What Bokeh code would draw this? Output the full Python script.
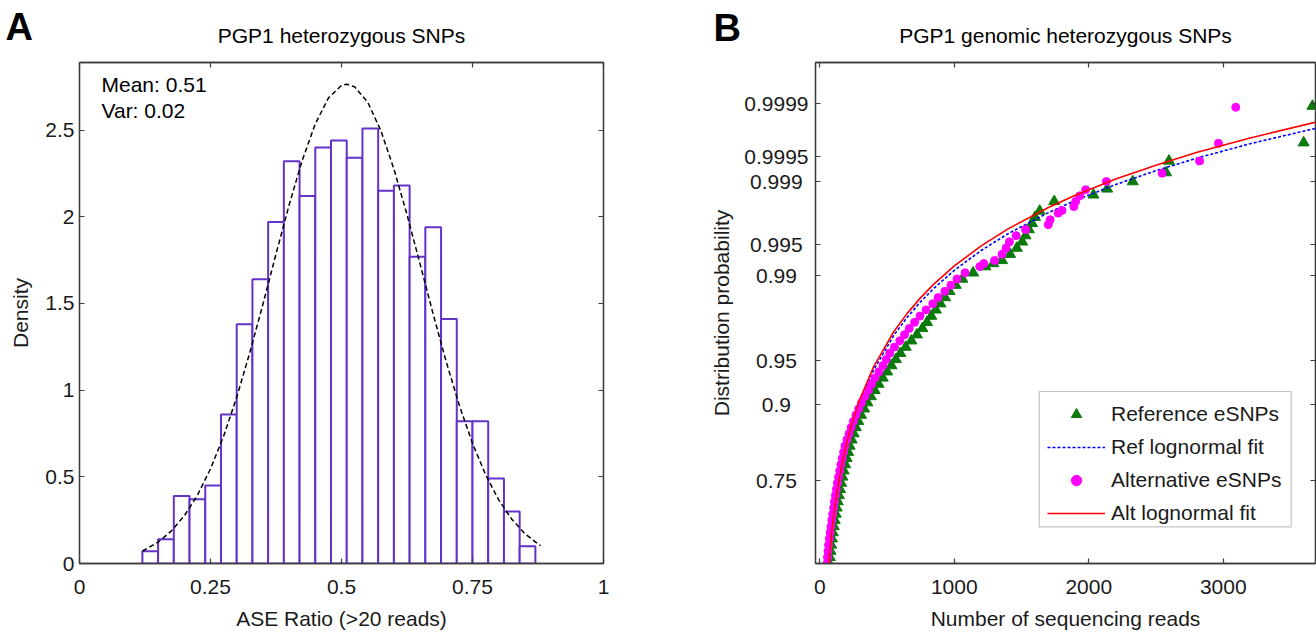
import math
from statistics import NormalDist
from bokeh.plotting import figure
from bokeh.layouts import row, column
from bokeh.models import (Range1d, LinearAxis, FixedTicker, CustomJSTickFormatter,
                          Label, Legend, LegendItem, BoxAnnotation)
from bokeh.embed import file_html
from bokeh.resources import INLINE

# ---------------- Panel A data ----------------
bin_edges = [0.12, 0.15, 0.18, 0.21, 0.24, 0.27, 0.30, 0.33, 0.36, 0.39, 0.42, 0.45, 0.48,
             0.51, 0.54, 0.57, 0.60, 0.63, 0.66, 0.69, 0.72, 0.75, 0.78, 0.81, 0.84, 0.87]
density = [0.07, 0.14, 0.39, 0.37, 0.45, 0.86, 1.38, 1.64, 1.97, 2.32, 2.12, 2.40, 2.44,
           2.34, 2.51, 2.15, 2.18, 1.77, 1.94, 1.41, 0.82, 0.82, 0.49, 0.30, 0.10]
normal_fit_x = [0.12, 0.15, 0.175, 0.2, 0.225, 0.25, 0.275, 0.3, 0.325, 0.35, 0.375, 0.4, 0.425,
                0.45, 0.475, 0.5, 0.51, 0.525, 0.55, 0.575, 0.6, 0.625, 0.65, 0.675, 0.7, 0.725,
                0.75, 0.775, 0.8, 0.825, 0.85, 0.875, 0.88]
normal_fit_y = [0.072, 0.123, 0.187, 0.275, 0.393, 0.546, 0.734, 0.959, 1.216, 1.495, 1.785, 2.068,
                2.325, 2.536, 2.685, 2.758, 2.765, 2.750, 2.661, 2.498, 2.276, 2.013, 1.727, 1.438,
                1.162, 0.911, 0.693, 0.512, 0.367, 0.255, 0.172, 0.113, 0.103]
a_xticks = [0, 0.25, 0.5, 0.75, 1]
a_yticks = [0, 0.5, 1, 1.5, 2, 2.5]

# ---------------- Panel B data ----------------
ref_reads = [70, 75, 80, 85, 91, 97, 104, 111, 119, 126, 134, 142, 150, 159, 168, 178, 189, 200,
             211, 222, 237, 252, 268, 286, 307, 330, 354, 380, 408, 437, 468, 501, 533, 566, 599,
             639, 681, 722, 763, 797, 829, 863, 897, 932, 965, 1011, 1060, 1140, 1232, 1290, 1355,
             1415, 1465, 1505, 1530, 1555, 1578, 1600, 1635,
             1743, 2035, 2137, 2327, 2575, 2596, 3598, 3663]
ref_prob = [0.5000, 0.5199, 0.5398, 0.5596, 0.5793, 0.5987, 0.6179, 0.6368, 0.6554, 0.6736,
            0.6915, 0.7088, 0.7257, 0.7422, 0.7580, 0.7734, 0.7881, 0.8023, 0.8159, 0.8289,
            0.8413, 0.8531, 0.8643, 0.8749, 0.8849, 0.8944, 0.9032, 0.9115, 0.9192, 0.9265,
            0.9332, 0.9394, 0.9452, 0.9505, 0.9554, 0.9599, 0.9641, 0.9678, 0.9713, 0.9744,
            0.97725, 0.97982, 0.98214, 0.98422, 0.98610, 0.98778, 0.98928, 0.99061, 0.99180,
            0.99235, 0.99286, 0.99379, 0.99461, 0.99534, 0.99598, 0.99653, 0.99702, 0.99744,
            0.99781,
            0.99829, 0.99856, 0.99877, 0.99899, 0.999211, 0.999431, 0.999665, 0.999891]
alt_reads = [53, 57, 61, 65, 71, 77, 83, 89, 96, 103, 109, 116, 123, 131, 139, 148, 157, 167,
             177, 187, 202, 217, 233, 250, 269, 289, 310, 336, 362, 385, 410, 440, 470, 495, 520,
             555, 595, 630, 665, 705, 745, 790, 840, 880, 930, 975, 1020, 1080, 1190, 1220, 1300,
             1355, 1385, 1410, 1460, 1530,
             1699, 1713, 1772, 1801, 1889, 1903, 1933, 1977, 2131, 2546, 2824, 2964, 3093]
alt_prob = [0.5000, 0.5199, 0.5398, 0.5596, 0.5793, 0.5987, 0.6179, 0.6368, 0.6554, 0.6736,
            0.6915, 0.7088, 0.7257, 0.7422, 0.7580, 0.7734, 0.7881, 0.8023, 0.8159, 0.8289,
            0.8413, 0.8531, 0.8643, 0.8749, 0.8849, 0.8944, 0.9032, 0.9115, 0.9192, 0.9265,
            0.9332, 0.9394, 0.9452, 0.9505, 0.9554, 0.9599, 0.9641, 0.9678, 0.9713, 0.9744,
            0.97725, 0.97982, 0.98214, 0.98422, 0.98610, 0.98778, 0.98928, 0.99061, 0.99180,
            0.99235, 0.99286, 0.99379, 0.99461, 0.99534, 0.99598, 0.99653,
            0.99692, 0.99727, 0.99769, 0.99784, 0.99805, 0.99829, 0.99852, 0.99874, 0.99899,
            0.999197, 0.999431, 0.999659, 0.999887]
ref_fit_reads = [60, 68, 80, 90, 100, 115, 130, 150, 170, 190, 220, 260, 300, 400, 550, 650, 750,
                 850, 1000, 1200, 1400, 1700, 1900, 2200, 2500, 2800, 3200, 3700]
ref_fit_prob = [0.4576, 0.5000, 0.5584, 0.6007, 0.6343, 0.6811, 0.7171, 0.7597, 0.7911, 0.8195,
                0.8502, 0.8829, 0.9049, 0.9410, 0.9674, 0.97674, 0.98285, 0.98701, 0.99110,
                0.99430, 0.99616, 0.99772, 0.99833, 0.998906, 0.999253, 0.999473, 0.999655,
                0.999785]
alt_fit_reads = [60, 67, 80, 90, 100, 115, 130, 150, 170, 190, 220, 260, 300, 400, 550, 650, 750,
                 850, 1000, 1200, 1400, 1700, 1900, 2200, 2500, 2800, 3200, 3700]
alt_fit_prob = [0.4607, 0.5000, 0.5626, 0.6035, 0.6391, 0.6846, 0.7224, 0.7633, 0.7963, 0.8231,
                0.8549, 0.8862, 0.9089, 0.9441, 0.9695, 0.97841, 0.9842, 0.98811, 0.99193,
                0.99488, 0.996584, 0.997997, 0.998543, 0.999056, 0.999359, 0.999553, 0.999709,
                0.999822]
b_xticks = [0, 1000, 2000, 3000]
b_ytick_prob = [0.75, 0.9, 0.95, 0.99, 0.995, 0.999, 0.9995, 0.9999]
b_ytick_labels = ["0.75", "0.9", "0.95", "0.99", "0.995", "0.999", "0.9995", "0.9999"]

# ---------------- styling ----------------
FONT = "Liberation Sans"
FS = "21px"
TXT = "#1a1a1a"
AX = "#3c3c3c"
PURPLE = "#6432C8"
GREEN = "#0A7A0A"
MAGENTA = "#FF00FF"
NBSP = "\u00a0"

ND = NormalDist()


def probit(ps):
    return [ND.inv_cdf(v) for v in ps]


num_fmt = CustomJSTickFormatter(code="return String(tick)")
blank_fmt = CustomJSTickFormatter(code="return ''")


def style_axis(ax, ticks, labels=True):
    ax.ticker = FixedTicker(ticks=ticks)
    ax.major_tick_in = 5
    ax.major_tick_out = 0
    ax.minor_tick_in = 0
    ax.minor_tick_out = 0
    ax.major_tick_line_color = AX
    ax.major_tick_line_width = 1.2
    ax.axis_line_color = AX
    ax.axis_line_width = 1.3
    ax.major_label_text_font = FONT
    ax.major_label_text_color = TXT
    ax.axis_label_text_font = FONT
    ax.axis_label_text_font_size = FS
    ax.axis_label_text_font_style = "normal"
    ax.axis_label_text_color = TXT
    if labels:
        ax.formatter = num_fmt
        ax.major_label_text_font_size = FS
    else:
        ax.formatter = blank_fmt
        ax.major_label_text_font_size = "0px"
        ax.major_label_standoff = 0


def clean(p):
    p.grid.visible = False
    p.title.visible = False
    p.outline_line_color = AX
    p.outline_line_width = 1.3


# ================= Header (panel letters and titles) =================
hdr = figure(width=1316, height=53, x_range=Range1d(0, 1316), y_range=Range1d(0, 53),
             output_backend="svg", toolbar_location=None, min_border=0,
             x_axis_location=None, y_axis_location=None)
hdr.grid.visible = False
hdr.title.visible = False
hdr.outline_line_color = None


def hlab(text, x, y, size=FS, align="left", bold=False):
    hdr.add_layout(Label(x=x, y=y, text=text, text_font=FONT, text_font_size=size,
                         text_align=align, text_baseline="middle", text_color="black",
                         text_font_style="bold" if bold else "normal"))


hlab("A", 5, 26.2, size="38px", bold=True)
hlab("PGP1 heterozygous SNPs", 341, 18.3, align="center")
hlab("B", 713, 25.5, size="38px", bold=True)
hlab("PGP1 genomic heterozygous SNPs", 1065, 18.3, align="center")

# ================= Panel A =================
pA = figure(width=690, height=579, x_range=Range1d(0, 1), y_range=Range1d(0, 2.89),
            output_backend="svg", toolbar_location=None,
            min_border_left=79, min_border_right=87, min_border_top=8, min_border_bottom=67)
clean(pA)
style_axis(pA.xaxis[0], a_xticks)
style_axis(pA.yaxis[0], a_yticks)
pA.xaxis[0].major_label_standoff = 16
pA.xaxis[0].axis_label = "ASE Ratio (>20 reads)"
pA.xaxis[0].axis_label_standoff = 10
pA.yaxis[0].major_label_standoff = 5
pA.yaxis[0].axis_label = "Density"
pA.yaxis[0].axis_label_standoff = 10
topA = LinearAxis()
style_axis(topA, a_xticks, labels=False)
pA.add_layout(topA, "above")
rightA = LinearAxis()
style_axis(rightA, a_yticks, labels=False)
pA.add_layout(rightA, "right")

pA.quad(left=bin_edges[:-1], right=bin_edges[1:], bottom=0, top=density,
        fill_color="white", line_color=PURPLE, line_width=2)
pA.line(normal_fit_x, normal_fit_y, line_color="black", line_width=1.5, line_dash="5 3")

for txt, yy in (("Mean: 0.51", 468), ("Var: 0.02", 442)):
    pA.add_layout(Label(x=22, y=yy, x_units="screen", y_units="screen", text=txt,
                        text_font=FONT, text_font_size=FS, text_color="black"))

# ================= Panel B =================
pB = figure(width=626, height=579, x_range=Range1d(-32, 3686), y_range=Range1d(0, 4.05),
            output_backend="svg", toolbar_location=None,
            min_border_left=125, min_border_right=1, min_border_top=9, min_border_bottom=67)
clean(pB)
style_axis(pB.xaxis[0], b_xticks)
pB.xaxis[0].major_label_standoff = 16
pB.xaxis[0].axis_label = "Number of sequencing reads"
pB.xaxis[0].axis_label_standoff = 10

yt = probit(b_ytick_prob)
width_chars = max(len(s) for s in b_ytick_labels)
padded = [s + NBSP * (width_chars - len(s)) for s in b_ytick_labels]
style_axis(pB.yaxis[0], yt)
pB.yaxis[0].formatter = CustomJSTickFormatter(
    args=dict(zs=yt, labs=padded),
    code="""let b = 0;
for (let i = 0; i < zs.length; i++) { if (Math.abs(zs[i] - tick) < Math.abs(zs[b] - tick)) b = i; }
return labs[b];""")
pB.yaxis[0].major_label_standoff = 7
pB.yaxis[0].axis_label = "Distribution probability"
pB.yaxis[0].axis_label_standoff = 8
topB = LinearAxis()
style_axis(topB, b_xticks, labels=False)
pB.add_layout(topB, "above")
rightB = LinearAxis()
style_axis(rightB, yt, labels=False)
pB.add_layout(rightB, "right")

r_ref = pB.scatter(ref_reads, probit(ref_prob), marker="triangle", size=11,
                   fill_color=GREEN, line_color=GREEN)
r_reffit = pB.line(ref_fit_reads, probit(ref_fit_prob), line_color="#0000FF", line_width=1.6,
                   line_dash="3 2")
r_alt = pB.scatter(alt_reads, probit(alt_prob), marker="circle", size=8,
                   fill_color=MAGENTA, line_color=MAGENTA)
r_altfit = pB.line(alt_fit_reads, probit(alt_fit_prob), line_color="#FF0000", line_width=1.6)

# legend frame (box drawn separately so its width matches the reference)
pB.add_layout(BoxAnnotation(left=1632, right=3505, bottom=0.2955, top=1.3905,
                            fill_color="white", fill_alpha=1.0,
                            line_color=AX, line_width=1.2))
legend = Legend(items=[LegendItem(label="Reference eSNPs", renderers=[r_ref]),
                       LegendItem(label="Ref lognormal fit", renderers=[r_reffit]),
                       LegendItem(label="Alternative eSNPs", renderers=[r_alt]),
                       LegendItem(label="Alt lognormal fit", renderers=[r_altfit])],
                location=(232, 37), padding=7, spacing=7, glyph_height=26, glyph_width=58,
                label_height=26, label_standoff=6, margin=0,
                border_line_color=None, background_fill_alpha=0.0,
                label_text_font=FONT, label_text_font_size=FS, label_text_color=TXT)
pB.add_layout(legend)

layout = column(hdr, row(pA, pB))
open("out.html", "w").write(file_html(layout, INLINE))
